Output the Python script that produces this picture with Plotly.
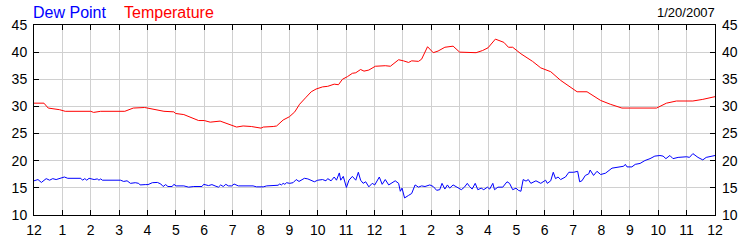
import plotly.graph_objects as go

# ---- data ----
temp_hours = [0.0, 0.35, 0.5, 0.9, 1.1, 2.0, 2.1, 2.35, 3.2, 3.5, 3.9, 4.0, 4.17, 4.58, 4.93, 4.99,
              5.28, 5.51, 5.80, 6.0, 6.21, 6.56, 6.91, 7.14, 7.37, 7.66, 8.0, 8.08, 8.43, 8.55,
              8.78, 9.0, 9.19, 9.36, 9.59, 9.77, 9.94, 10.17, 10.35, 10.58, 10.73, 10.87, 11.05,
              11.22, 11.34, 11.51, 11.63, 11.80, 12.03, 12.38, 12.56, 12.85, 13.02, 13.2, 13.31,
              13.55, 13.66, 13.87, 14.07, 14.24, 14.48, 14.77, 15.0, 15.29, 15.58, 15.81, 16.0,
              16.26, 16.56, 16.72, 16.87, 17.16, 17.57, 17.86, 18.21, 18.56, 18.85, 19.14, 19.49,
              19.72, 19.97, 20.31, 20.72, 21.94, 22.29, 22.64, 23.22, 23.57, 24.0]
temperature = [30.6, 30.6, 29.7, 29.4, 29.1, 29.1, 28.9, 29.1, 29.1, 29.7, 29.8, 29.7, 29.4, 29.1,
               29.0, 28.7, 28.5, 28.0, 27.4, 27.4, 27.1, 27.3, 26.6, 26.2, 26.4, 26.3, 26.0, 26.2,
               26.3, 26.4, 27.5, 28.1, 29.0, 30.4, 31.7, 32.7, 33.2, 33.6, 33.7, 34.1, 34.0, 35.0,
               35.5, 36.1, 36.2, 36.8, 36.5, 36.7, 37.4, 37.5, 37.4, 38.6, 38.4, 38.1, 38.4, 38.3,
               38.7, 41.0, 39.9, 40.2, 40.9, 41.1, 40.0, 39.9, 39.9, 40.3, 40.8, 42.4, 41.8, 40.9,
               40.9, 39.7, 38.3, 37.1, 36.4, 34.8, 33.8, 32.7, 32.7, 32.0, 31.1, 30.4, 29.7, 29.7,
               30.6, 31.0, 31.0, 31.3, 31.8]

dew_hours = [0.0, 0.14, 0.26, 0.43, 0.55, 0.66, 0.78, 0.90, 1.07, 1.19, 1.65, 1.71, 1.79, 1.86, 1.94,
             2.12, 2.23, 2.29, 2.35, 2.41, 3.05, 3.16, 3.28, 3.40, 3.57, 3.69, 3.74, 3.92, 4.02,
             4.17, 4.35, 4.47, 4.55, 4.64, 4.72, 4.87, 4.93, 5.01, 5.28, 5.45, 5.63, 5.92, 5.98,
             6.15, 6.27, 6.38, 6.50, 6.58, 6.67, 6.76, 6.85, 6.97, 7.05, 7.20, 7.72, 7.84, 8.08,
             8.20, 8.43, 8.55, 8.60, 8.66, 8.72, 8.78, 8.84, 8.90, 9.01, 9.13, 9.24, 9.34, 9.42,
             9.53, 9.65, 9.77, 9.88, 10.00, 10.17, 10.29, 10.35, 10.47, 10.58, 10.66, 10.76, 10.81,
             10.90, 11.01, 11.10, 11.22, 11.34, 11.43, 11.51, 11.60, 11.69, 11.80, 11.92, 12.01,
             12.17, 12.27, 12.38, 12.50, 12.64, 12.73, 12.85, 12.91, 12.97, 13.06, 13.20, 13.31,
             13.43, 13.55, 13.66, 13.78, 13.95, 14.07, 14.19, 14.30, 14.38, 14.48, 14.57, 14.65,
             14.77, 14.94, 15.06, 15.17, 15.27, 15.35, 15.44, 15.55, 15.64, 15.76, 15.85, 15.98,
             16.06, 16.17, 16.23, 16.35, 16.52, 16.67, 16.76, 16.87, 16.99, 17.07, 17.16, 17.24,
             17.34, 17.42, 17.51, 17.69, 17.86, 18.03, 18.09, 18.21, 18.30, 18.38, 18.47, 18.56,
             18.73, 18.85, 19.02, 19.16, 19.23, 19.31, 19.43, 19.55, 19.60, 19.72, 19.84, 19.97,
             20.14, 20.37, 20.60, 20.78, 20.84, 20.90, 21.07, 21.19, 21.36, 21.53, 21.71, 21.88,
             22.06, 22.17, 22.27, 22.41, 22.52, 22.70, 23.00, 23.10, 23.22, 23.40, 23.57, 23.69,
             24.0]
dew_point = [16.30, 16.53, 16.00, 16.70, 16.41, 16.70, 16.53, 16.70, 17.00, 16.76, 16.76, 16.41,
             16.70, 16.41, 16.76, 16.53, 16.65, 16.41, 16.65, 16.41, 16.41, 16.18, 16.30, 15.83,
             15.95, 15.83, 15.54, 15.60, 15.60, 15.95, 16.00, 15.71, 15.25, 15.60, 15.25, 15.25,
             15.65, 15.36, 15.36, 15.13, 15.25, 15.25, 15.65, 15.42, 15.60, 15.36, 15.13, 15.54,
             15.25, 15.65, 15.36, 15.36, 15.71, 15.36, 15.36, 15.19, 15.19, 15.36, 15.42, 15.54,
             15.48, 15.71, 15.54, 15.83, 15.65, 15.95, 15.83, 15.95, 16.53, 16.18, 16.41, 16.76,
             16.65, 16.41, 16.12, 16.41, 16.53, 16.30, 16.70, 16.30, 17.00, 16.41, 17.75, 16.41,
             17.11, 15.07, 16.41, 17.11, 16.41, 17.87, 16.41, 15.83, 16.12, 15.19, 15.83, 15.54,
             17.00, 15.65, 16.53, 15.54, 16.06, 16.30, 15.83, 14.37, 14.95, 13.14, 13.61, 13.96,
             15.54, 15.13, 15.36, 15.25, 15.54, 15.25, 14.55, 14.66, 15.83, 14.78, 15.54, 14.95,
             15.54, 14.95, 14.66, 15.13, 15.83, 15.25, 14.78, 15.83, 14.66, 14.95, 14.66, 15.13,
             14.78, 15.83, 14.66, 15.13, 15.13, 16.12, 15.83, 14.66, 14.95, 14.55, 14.37, 16.53,
             16.24, 16.53, 15.83, 16.30, 15.83, 16.41, 15.83, 16.30, 17.87, 16.70, 17.00, 16.53,
             17.00, 17.87, 17.87, 18.05, 16.12, 16.30, 17.29, 17.58, 18.28, 17.29, 18.05, 17.46,
             17.70, 18.63, 18.75, 18.98, 19.33, 18.86, 18.86, 19.33, 19.50, 20.03, 20.38, 20.85,
             20.96, 20.85, 20.38, 20.96, 20.38, 20.61, 20.73, 20.61, 21.31, 20.61, 20.15, 20.61,
             20.96]

hour_ticks = list(range(0, 25))
hour_labels = ["12", "1", "2", "3", "4", "5", "6", "7", "8", "9", "10", "11",
               "12", "1", "2", "3", "4", "5", "6", "7", "8", "9", "10", "11", "12"]
y_ticks = [10, 15, 20, 25, 30, 35, 40, 45]
date_label = "1/20/2007"

FONT = "Liberation Sans, Arial, sans-serif"

fig = go.Figure()
fig.add_trace(go.Scatter(x=dew_hours, y=dew_point, mode="lines", name="Dew Point",
                         line=dict(color="#0000ff", width=1), yaxis="y"))
fig.add_trace(go.Scatter(x=temp_hours, y=temperature, mode="lines", name="Temperature",
                         line=dict(color="#ff0000", width=1), yaxis="y2"))

axis_common = dict(showline=True, linecolor="black", linewidth=1,
                   ticks="inside", ticklen=5, tickwidth=1, tickcolor="black",
                   gridcolor="#d0d0d0", gridwidth=1, zeroline=False,
                   tickfont=dict(family=FONT, size=14, color="black"))

fig.update_layout(
    width=750, height=250,
    margin=dict(l=30, r=31, t=25, b=25),
    paper_bgcolor="white", plot_bgcolor="white",
    showlegend=False,
    xaxis=dict(range=[0, 24], tickvals=hour_ticks, ticktext=hour_labels,
               mirror="ticks", ticklabelstandoff=2, **axis_common),
    yaxis=dict(range=[10, 45], tickvals=y_ticks, mirror="ticks",
               ticklabelstandoff=3, **axis_common),
    yaxis2=dict(range=[10, 45], tickvals=y_ticks, overlaying="y", side="right",
                showgrid=False, showline=False, ticks="", zeroline=False,
                ticklabelstandoff=6,
                tickfont=dict(family=FONT, size=14, color="black")),
    annotations=[
        dict(text="Dew Point", xref="paper", yref="paper", x=0, y=1, xanchor="left",
             yanchor="bottom", xshift=-3, yshift=2, showarrow=False,
             font=dict(family=FONT, size=16, color="#0000ff")),
        dict(text="Temperature", xref="paper", yref="paper", x=0, y=1, xanchor="left",
             yanchor="bottom", xshift=88, yshift=2, showarrow=False,
             font=dict(family=FONT, size=16, color="#ff0000")),
        dict(text=date_label, xref="paper", yref="paper", x=1, y=1, xanchor="right",
             yanchor="bottom", xshift=2, yshift=3, showarrow=False,
             font=dict(family=FONT, size=13, color="black")),
    ],
)

fig.write_html("out.html")
